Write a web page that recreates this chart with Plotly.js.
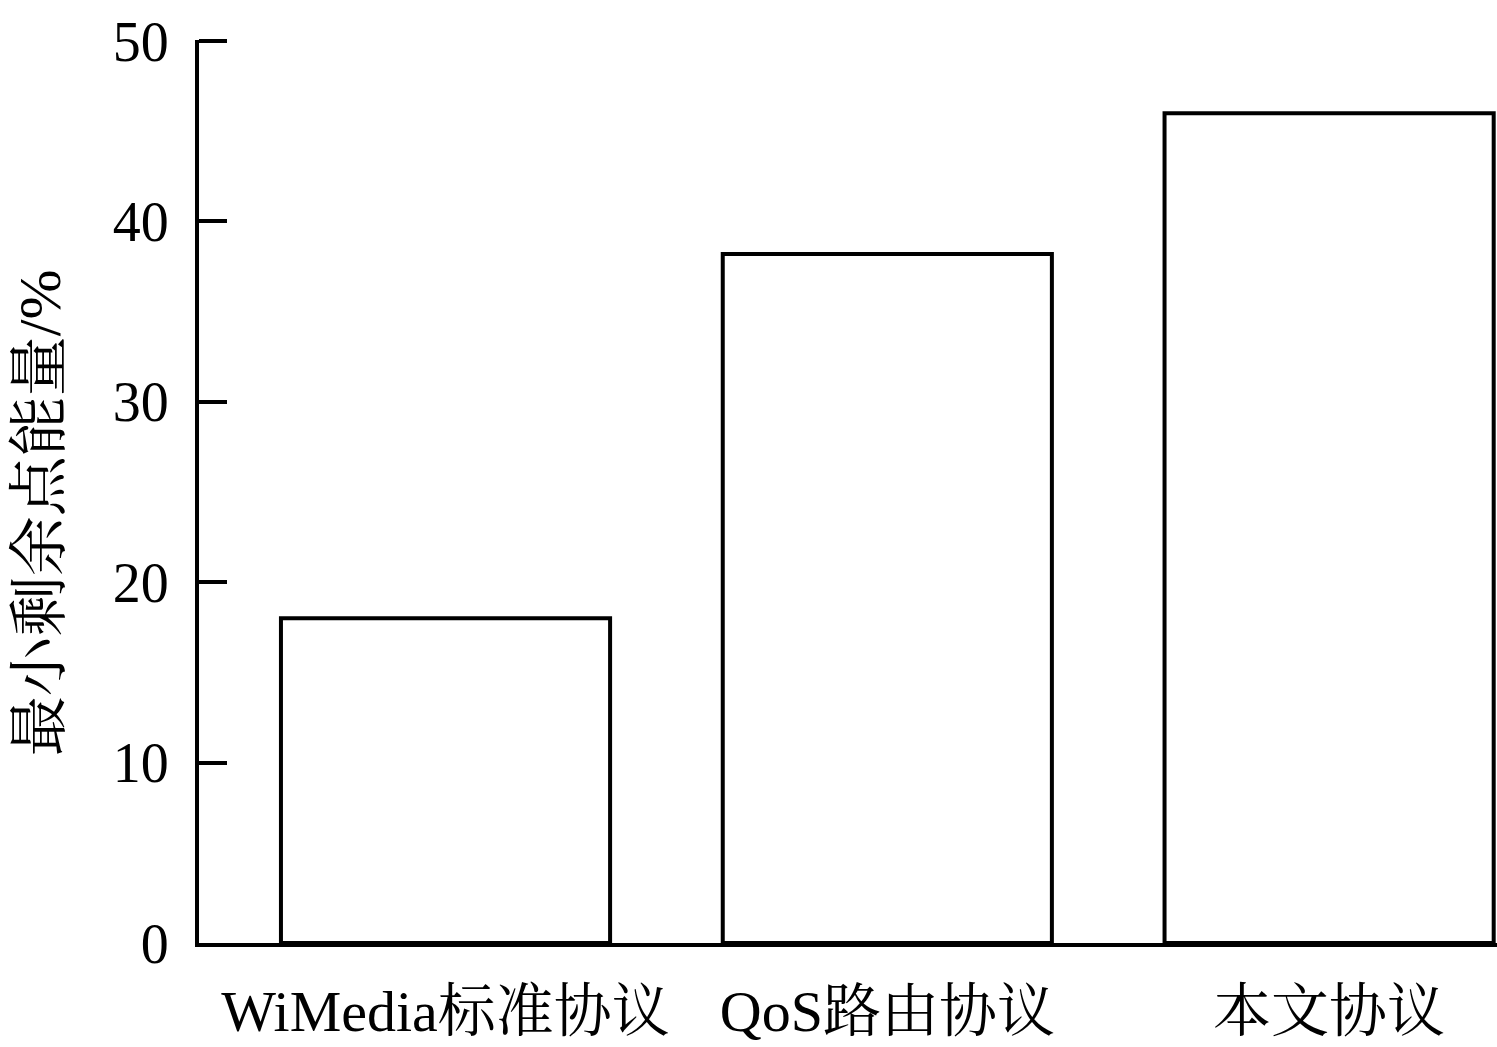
<!DOCTYPE html>
<html>
<head>
<meta charset="utf-8">
<script src="https://cdn.plot.ly/plotly-3.0.1.min.js"></script>
<style>html,body{margin:0;padding:0;background:#fff;}#chart{width:1497px;height:1047px;}</style>
</head>
<body>
<div id="chart"></div>
<script>
const categories = ["WiMedia标准协议", "QoS路由协议", "本文协议"];
const minResidualEnergy = [18, 38.2, 46];
const yTickValues = [0, 10, 20, 30, 40, 50];
const yTitle = "最小剩余点能量/%";

const FONT = "'Times New Roman', 'Liberation Serif', 'Noto Serif CJK SC', 'Noto Sans CJK SC', serif";

const trace = {
  type: "bar",
  x: categories,
  y: minResidualEnergy,
  width: 0.745,
  marker: { color: "#ffffff", line: { color: "#000000", width: 4 } },
  hoverinfo: "none"
};

const layout = {
  width: 1497,
  height: 1047,
  margin: { l: 199, r: 0, t: 40, b: 104 },
  paper_bgcolor: "#ffffff",
  plot_bgcolor: "#ffffff",
  showlegend: false,
  font: { family: FONT, color: "#000000", size: 56 },
  xaxis: {
    type: "category",
    range: [-0.558, 2.38],
    showline: true,
    linecolor: "#000000",
    linewidth: 4,
    ticks: "",
    showgrid: false,
    zeroline: false,
    tickfont: { family: FONT, size: 58, color: "#000000" },
    ticklabelstandoff: 14
  },
  yaxis: {
    range: [0, 50.06],
    tickvals: yTickValues,
    ticktext: yTickValues.map(String),
    showline: true,
    linecolor: "#000000",
    linewidth: 4,
    ticks: "inside",
    ticklen: 28,
    tickwidth: 4,
    tickcolor: "#000000",
    showgrid: false,
    zeroline: false,
    tickfont: { family: FONT, size: 56, color: "#000000" },
    ticklabelstandoff: 15
  },
  annotations: [{
    text: yTitle,
    textangle: -90,
    xref: "paper", yref: "paper",
    x: -0.1226, y: 0.477,
    xanchor: "center", yanchor: "middle",
    showarrow: false,
    font: { family: FONT, size: 60, color: "#000000" }
  }]
};

Plotly.newPlot("chart", [trace], layout, { displayModeBar: false, staticPlot: true });
</script>
</body>
</html>
